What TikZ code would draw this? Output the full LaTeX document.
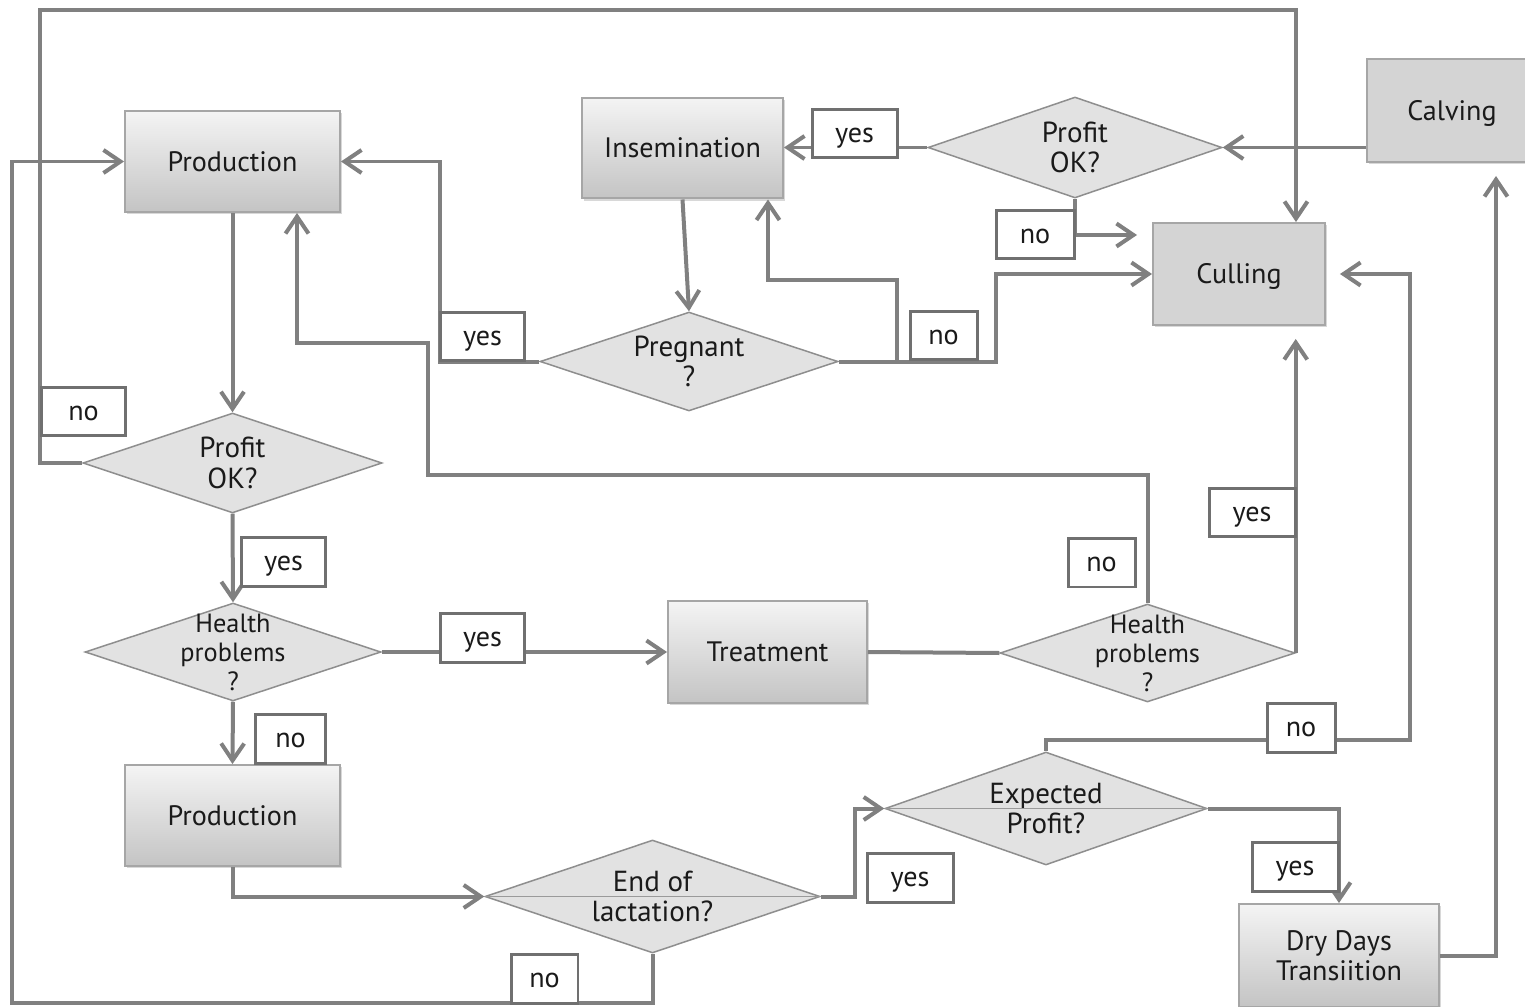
\documentclass[tikz,border=0pt]{standalone}
\usepackage{fontspec}
\setmainfont{PT Sans}
\usetikzlibrary{arrows.meta,shapes.geometric,shadows}
\definecolor{conn}{HTML}{808080}
\definecolor{boxb}{HTML}{A6A6A6}
\definecolor{boxtop}{HTML}{F4F4F4}
\definecolor{boxbot}{HTML}{C4C4C4}
\definecolor{flatg}{HTML}{D4D4D4}
\definecolor{diaf}{HTML}{E2E2E2}
\definecolor{diab}{HTML}{8E8E8E}
\definecolor{labb}{HTML}{707070}
\definecolor{txt}{HTML}{1A1A1A}
\definecolor{midline}{HTML}{9A9A9A}
\begin{document}
\begin{tikzpicture}[x=0.02cm,y=-0.02cm,
  every node/.style={text=txt},
  boxbase/.style={draw=boxb, line width=0.04cm, inner sep=0pt,
    font=\fontsize{16}{17}\selectfont,
    drop shadow={shadow xshift=1.2pt, shadow yshift=-1.2pt, opacity=0.3, fill=gray}},
  procbox/.style={boxbase, top color=boxtop, bottom color=boxbot},
  flatbox/.style={boxbase, fill=flatg},
  oneline/.style={text height=11.2pt, text depth=0pt},
  decision/.style={shape=diamond, draw=diab, line width=0.03cm, fill=diaf, inner sep=0pt},
  dtext/.style={align=center, font=\fontsize{16.5}{17.5}\selectfont, text=txt, inner sep=0pt},
  htext/.style={align=center, font=\fontsize{15}{16.5}\selectfont, text=txt, inner sep=0pt},
  tag/.style={draw=labb, line width=0.06cm, fill=white, inner sep=0pt, minimum height=0.98cm,
    text height=10pt, text depth=0pt, font=\fontsize{16}{17}\selectfont},
  flow/.style={draw=conn, line width=0.08cm},
  arr/.style={flow, -{Straight Barb[length=3.4mm,width=4.6mm]}},
]
\useasboundingbox (0,0) rectangle (1525,1007);
\clip (0,0) rectangle (1525,1007);
\fill[white] (0,0) rectangle (1525,1007);

% process boxes
\node[procbox, oneline, minimum width=4.3cm, minimum height=2.02cm] (prod1) at (232.5,161.5) {Production};
\node[procbox, oneline, minimum width=4.02cm, minimum height=2.02cm] (insem) at (682.5,148) {Insemination};
\node[flatbox, oneline, minimum width=3.4cm, minimum height=2.06cm] (calv) at (1452,110.5) {Calving};
\node[flatbox, oneline, minimum width=3.44cm, minimum height=2.04cm] (cull) at (1239,274) {Culling};
\node[procbox, oneline, minimum width=3.98cm, minimum height=2.04cm] (treat) at (767.5,652) {Treatment};
\node[procbox, oneline, minimum width=4.3cm, minimum height=2.02cm] (prod2) at (232.5,815.5) {Production};
\node[procbox, minimum width=4.0cm, minimum height=2.06cm, align=center] (dry) at (1339,955.5) {Dry Days\\Transiition};

% decisions
\node[decision, minimum width=5.88cm, minimum height=2.02cm, label={[dtext]center:{Profit\\OK?}}] (pt) at (1075,147.5) {};
\node[decision, minimum width=5.96cm, minimum height=1.98cm, label={[dtext]center:{Pregnant\\?}}] (preg) at (689,361.5) {};
\node[decision, minimum width=5.98cm, minimum height=2.0cm, label={[dtext]center:{Profit\\OK?}}] (pl) at (232.5,463) {};
\node[decision, minimum width=5.92cm, minimum height=1.96cm, label={[htext]center:{Health\\problems\\?}}] (h1) at (233,652) {};
\node[decision, minimum width=5.9cm, minimum height=1.96cm, label={[htext]center:{Health\\problems\\?}}] (h2) at (1147.5,653) {};
\node[decision, minimum width=6.44cm, minimum height=2.26cm, label={[dtext]center:{Expected\\Profit?}}] (ep) at (1046,808.5) {};
\node[decision, minimum width=6.7cm, minimum height=2.26cm, label={[dtext]center:{End of\\lactation?}}] (el) at (652.5,896.5) {};

\draw[draw=midline, line width=0.03cm] (ep.west) -- (ep.east);
\draw[draw=midline, line width=0.03cm] (el.west) -- (el.east);

% connectors
\draw[arr] (prod1.south) -- (pl.north);
\draw[arr] (pl.south) -- (h1.north);
\draw[arr] (h1.south) -- (prod2.north);
\draw[arr] (h1.east) -- (treat.west);
\draw[flow] (treat.east) -- (h2.west);
\draw[arr] (prod2.south) |- (el.west);
\draw[arr] (el.east) -- (855,896.5) |- (ep.west);
\draw[arr] (ep.east) -| (dry.north);
\draw[arr, shorten >=2.6mm] (dry.east) -| (calv.south -| 1496,0);
\draw[arr, shorten >=2.8mm] (ep.north) |- (1410,740) |- (cull.east);
\draw[arr, shorten >=2.6mm] (h2.east) -- (h2.east |- cull.south);
\draw[arr] (h2.north) |- (428,475) |- (297,343) -- (prod1.south -| 297,0);
\draw[arr] (el.south) |- (12,1003) |- (prod1.west);
\draw[arr] (pl.west) -| (40,10) -| (cull.north -| 1296,0);
\draw[arr] (preg.west) -- (440,361.5) |- (prod1.east);
\draw[arr] (preg.east) -- (897,361.5) |- (768,280) -- (insem.south -| 768,0);
\draw[arr] (preg.east) -| (996,274) -- (cull.west);
\draw[arr] (insem.south) -- (preg.north);
\draw[arr] (pt.west) -- (insem.east |- pt.west);
\draw[arr] (calv.west |- pt.east) -- (pt.east);
\draw[arr, shorten >=3mm] (pt.south) |- (cull.west |- 0,235);

% tags
\node[tag, minimum width=1.7cm] (t1) at (83.5,411.5) {no};
\node[tag, minimum width=1.7cm] (t2) at (482.5,336.5) {yes};
\node[tag, minimum width=1.7cm] (t3) at (854.5,133.5) {yes};
\node[tag, minimum width=1.56cm] (t4) at (1035,234.5) {no};
\node[tag, minimum width=1.34cm] (t5) at (943.5,335.5) {no};
\node[tag, minimum width=1.7cm] (t6) at (283.5,562) {yes};
\node[tag, minimum width=1.7cm] (t7) at (482.5,638) {yes};
\node[tag, minimum width=1.42cm] (t8) at (290.5,738.5) {no};
\node[tag, minimum width=1.34cm] (t9) at (1101.5,562.5) {no};
\node[tag, minimum width=1.72cm] (t10) at (1252,512.5) {yes};
\node[tag, minimum width=1.36cm] (t11) at (1301,727.5) {no};
\node[tag, minimum width=1.72cm] (t12) at (910,877.5) {yes};
\node[tag, minimum width=1.72cm] (t13) at (1295,866.5) {yes};
\node[tag, minimum width=1.34cm] (t14) at (544.5,978.5) {no};
\end{tikzpicture}
\end{document}
